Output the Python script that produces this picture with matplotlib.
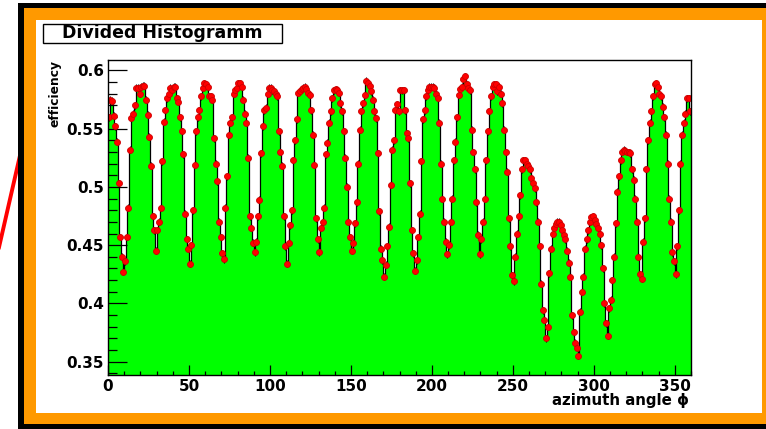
import numpy as np
import matplotlib.pyplot as plt
from matplotlib.patches import Rectangle
from matplotlib.lines import Line2D
from matplotlib.ticker import MultipleLocator

W, H = 766, 429

# efficiency per 1 degree bin (4 quadrants of 90 bins)
eff_000_089 = [
    0.560, 0.575, 0.574, 0.561, 0.552, 0.539, 0.503, 0.457, 0.440, 0.427,
    0.436, 0.457, 0.482, 0.532, 0.559, 0.563, 0.570, 0.585, 0.585, 0.580,
    0.586, 0.587, 0.587, 0.575, 0.562, 0.543, 0.518, 0.475, 0.463, 0.445,
    0.463, 0.470, 0.482, 0.522, 0.556, 0.566, 0.576, 0.580, 0.585, 0.583,
    0.586, 0.586, 0.576, 0.573, 0.560, 0.548, 0.528, 0.477, 0.455, 0.447,
    0.434, 0.450, 0.480, 0.519, 0.548, 0.560, 0.566, 0.578, 0.585, 0.589,
    0.588, 0.586, 0.578, 0.578, 0.575, 0.542, 0.520, 0.505, 0.470, 0.457,
    0.443, 0.438, 0.482, 0.509, 0.545, 0.555, 0.560, 0.580, 0.583, 0.585,
    0.589, 0.589, 0.586, 0.575, 0.563, 0.555, 0.525, 0.475, 0.465, 0.452,
]
eff_090_179 = [
    0.444, 0.453, 0.475, 0.489, 0.529, 0.552, 0.566, 0.568, 0.580, 0.585,
    0.585, 0.583, 0.582, 0.580, 0.578, 0.548, 0.530, 0.518, 0.475, 0.449,
    0.434, 0.452, 0.467, 0.480, 0.523, 0.540, 0.558, 0.581, 0.582, 0.584,
    0.585, 0.586, 0.584, 0.581, 0.579, 0.566, 0.545, 0.519, 0.473, 0.455,
    0.444, 0.465, 0.470, 0.482, 0.528, 0.538, 0.555, 0.565, 0.576, 0.583,
    0.584, 0.583, 0.581, 0.572, 0.565, 0.548, 0.525, 0.500, 0.470, 0.457,
    0.445, 0.452, 0.469, 0.487, 0.520, 0.549, 0.565, 0.572, 0.579, 0.591,
    0.589, 0.587, 0.582, 0.575, 0.565, 0.559, 0.529, 0.479, 0.447, 0.437,
    0.423, 0.433, 0.449, 0.466, 0.502, 0.532, 0.540, 0.566, 0.571, 0.565,
]
eff_180_269 = [
    0.583, 0.583, 0.583, 0.566, 0.546, 0.542, 0.503, 0.463, 0.443, 0.428,
    0.437, 0.457, 0.477, 0.522, 0.558, 0.566, 0.578, 0.583, 0.586, 0.586,
    0.586, 0.585, 0.580, 0.576, 0.555, 0.520, 0.490, 0.470, 0.453, 0.442,
    0.450, 0.470, 0.490, 0.523, 0.539, 0.560, 0.579, 0.584, 0.586, 0.593,
    0.595, 0.588, 0.585, 0.583, 0.549, 0.530, 0.515, 0.487, 0.459, 0.442,
    0.455, 0.470, 0.490, 0.523, 0.548, 0.565, 0.578, 0.586, 0.588, 0.588,
    0.582, 0.586, 0.580, 0.572, 0.549, 0.530, 0.513, 0.473, 0.449, 0.424,
    0.419, 0.440, 0.460, 0.475, 0.493, 0.515, 0.523, 0.523, 0.520, 0.518,
    0.515, 0.508, 0.503, 0.499, 0.487, 0.470, 0.449, 0.417, 0.394, 0.386,
]
eff_270_359 = [
    0.370, 0.380, 0.426, 0.447, 0.460, 0.465, 0.468, 0.470, 0.470, 0.467,
    0.463, 0.459, 0.455, 0.445, 0.435, 0.423, 0.390, 0.375, 0.366, 0.362,
    0.355, 0.393, 0.410, 0.423, 0.447, 0.455, 0.463, 0.470, 0.474, 0.475,
    0.472, 0.468, 0.465, 0.460, 0.450, 0.430, 0.400, 0.383, 0.372, 0.396,
    0.403, 0.420, 0.440, 0.469, 0.496, 0.509, 0.523, 0.530, 0.532, 0.531,
    0.530, 0.530, 0.529, 0.515, 0.506, 0.490, 0.470, 0.440, 0.425, 0.421,
    0.453, 0.473, 0.515, 0.540, 0.555, 0.565, 0.578, 0.588, 0.589, 0.586,
    0.580, 0.578, 0.569, 0.560, 0.545, 0.520, 0.490, 0.470, 0.444, 0.436,
    0.425, 0.449, 0.480, 0.520, 0.545, 0.555, 0.563, 0.576, 0.576, 0.565,
]
eff_err = 0.003
phi_range = (0, 360)
x_ticks = [0, 50, 100, 150, 200, 250, 300, 350]
y_ticks = [0.35, 0.4, 0.45, 0.5, 0.55, 0.6]
y_tick_labels = ["0.35", "0.4", "0.45", "0.5", "0.55", "0.6"]

eff = np.array(eff_000_089 + eff_090_179 + eff_180_269 + eff_270_359)
edges = np.linspace(phi_range[0], phi_range[1], len(eff) + 1)
centers = 0.5 * (edges[:-1] + edges[1:])


def fx(x):
    return x / W


def fy(y):
    return 1 - y / H


fig = plt.figure(figsize=(W / 100, H / 100), dpi=100)
fig.patch.set_facecolor("white")

# canvas frame: red line, black border, orange pad, white inner (behind the axes)
fig.add_artist(Line2D([fx(-3), fx(24)], [fy(256), fy(138)], color="#ff0000",
                      lw=2.8, zorder=-10))
fig.add_artist(Rectangle((fx(18), fy(440)), fx(800 - 18), (440 - 3) / H,
                         facecolor="black", edgecolor="none", zorder=-9))
fig.add_artist(Rectangle((fx(24), fy(424)), fx(790 - 24), (424 - 8) / H,
                         facecolor="#ff9900", edgecolor="none", zorder=-8))
fig.add_artist(Rectangle((fx(36), fy(413)), fx(762 - 36), (413 - 20) / H,
                         facecolor="white", edgecolor="none", zorder=-7))

# title box
fig.add_artist(Rectangle((fx(43), fy(43)), fx(282 - 43), (43 - 24) / H,
                         facecolor="white", edgecolor="black", lw=1))
fig.text(fx(162.5), fy(33.5), "Divided Histogramm", ha="center", va="center",
         fontsize=12.5, fontweight="bold", color="black")

ax = fig.add_axes([fx(108), fy(375), fx(691 - 108), (375 - 60) / H])
ax.set_facecolor("white")

ax.stairs(eff, edges, baseline=0.0, fill=True, color="#00ff00", zorder=1)
ax.stairs(eff, edges, baseline=None, color="black", lw=0.9, zorder=2)
ax.errorbar(centers, eff, yerr=eff_err, fmt="o", ms=4.3, mfc="#ff0000",
            mec="#cc0000", mew=0.6, ecolor="black", elinewidth=0.8,
            capsize=0, zorder=3)

ax.set_xlim(*phi_range)
ax.set_ylim(0.3385, 0.609)

ax.set_xticks(x_ticks)
ax.set_xticklabels([str(t) for t in x_ticks])
ax.set_yticks(y_ticks)
ax.set_yticklabels(y_tick_labels)
ax.xaxis.set_minor_locator(MultipleLocator(10))
ax.yaxis.set_minor_locator(MultipleLocator(0.01))

ax.tick_params(axis="both", which="both", direction="in", top=False, right=False,
               colors="black", width=0.9)
ax.tick_params(axis="y", which="major", length=13.5, pad=3)
ax.tick_params(axis="y", which="minor", length=6.5)
ax.tick_params(axis="x", which="major", length=7, pad=3)
ax.tick_params(axis="x", which="minor", length=3)
for lab in ax.get_xticklabels() + ax.get_yticklabels():
    lab.set_fontsize(11)
    lab.set_fontweight("bold")

for s in ax.spines.values():
    s.set_linewidth(1.0)
    s.set_color("black")
    s.set_zorder(5)

fig.text(fx(55), fy(60), "efficiency", rotation=90, ha="center", va="top",
         fontsize=8.8, fontweight="bold")
fig.text(fx(689), fy(401), "azimuth angle \u03d5", ha="right", va="center",
         fontsize=10.8, fontweight="bold")

fig.savefig("out.png", dpi=100)
